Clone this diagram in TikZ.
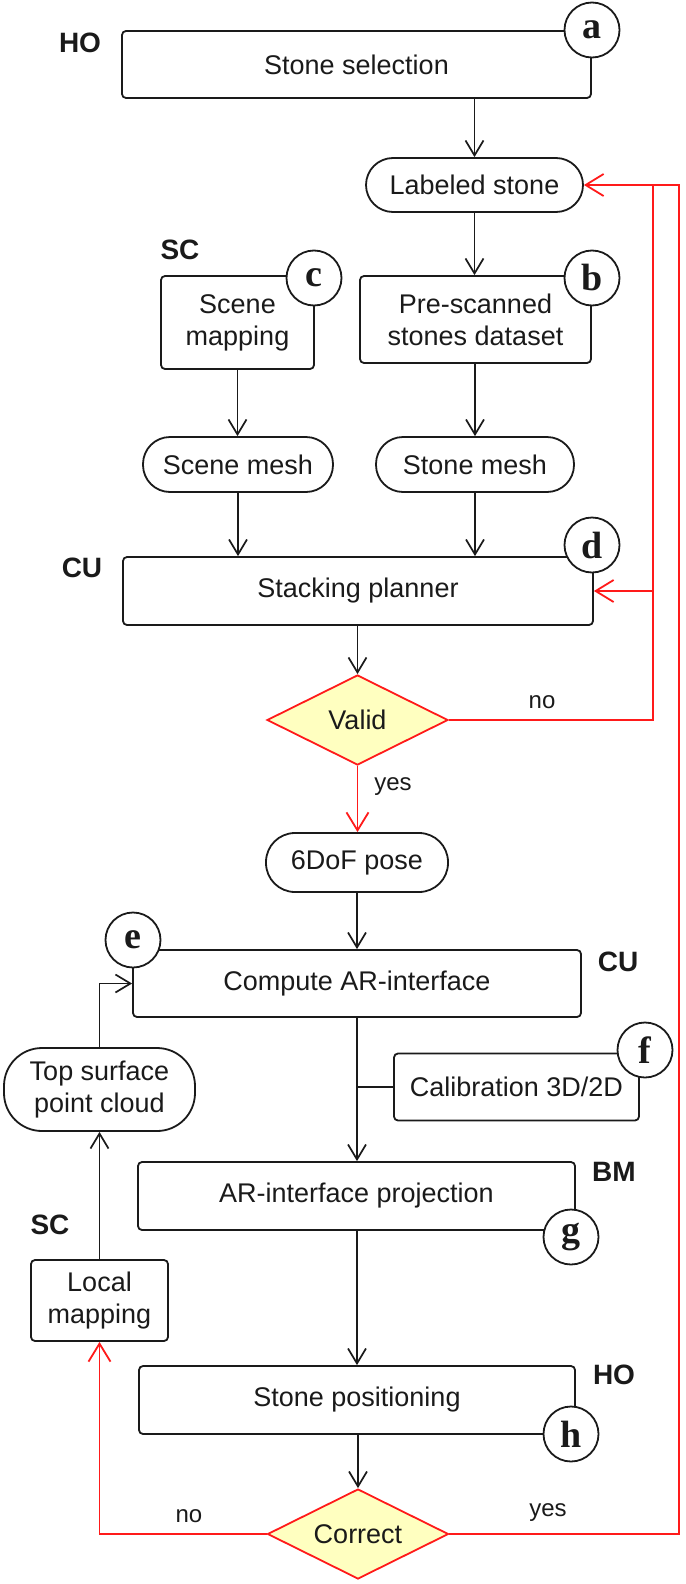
\documentclass[tikz,border=0pt]{standalone}
\usepackage{fontspec}
\setmainfont{Liberation Sans}
\newfontfamily\circfont{Liberation Serif}
\usetikzlibrary{arrows.meta,shapes.geometric,calc}
\definecolor{lineblk}{HTML}{1A1A1A}
\definecolor{flowred}{HTML}{FF1A1A}
\definecolor{diafill}{HTML}{FFFFC0}
\begin{document}
\begin{tikzpicture}[x=1pt,y=-1pt,
  font=\fontsize{27}{32}\selectfont,
  box/.style={draw=lineblk, line width=1.8pt, rounded corners=4pt, inner sep=0pt, align=center, text=lineblk},
  pill/.style={draw=lineblk, line width=1.8pt, rounded corners=#1, inner sep=0pt, align=center, text=lineblk},
  pill/.default=27pt,
  circ/.style={circle, draw=lineblk, line width=1.8pt, fill=white, minimum size=55pt, inner sep=0pt, text=lineblk, font=\circfont\bfseries\fontsize{38}{38}\selectfont},
  lbl/.style={text=lineblk, font=\bfseries\fontsize{28}{30}\selectfont},
  yn/.style={text=lineblk, font=\fontsize{24}{28}\selectfont},
  dia/.style={diamond, aspect=2, draw=flowred, line width=1.8pt, fill=diafill, minimum width=181pt, minimum height=90pt, inner sep=0pt, text=lineblk},
  arr/.style={draw=lineblk, line width=1.7pt, -{Straight Barb[length=15pt,width=18pt,line width=1.7pt]}},
  ln/.style={draw=lineblk, line width=1.7pt},
  rarr/.style={draw=flowred, line width=1.8pt, -{Straight Barb[length=18pt,width=22pt,line width=1.8pt]}},
  rln/.style={draw=flowred, line width=1.8pt}
]
\useasboundingbox (0,0) rectangle (685,1584);

% boxes
\node[box, minimum width=469pt, minimum height=67pt] (sel) at (356.5,64.5) {Stone selection};
\node[pill, minimum width=217pt, minimum height=54pt] (lab) at (474.5,185) {Labeled stone};
\node[box, minimum width=153pt, minimum height=93pt] (scm) at (237.5,322.5) {Scene\\mapping};
\node[box, minimum width=231pt, minimum height=87pt] (pre) at (475.5,319.5) {Pre-scanned\\stones dataset};
\node[pill, minimum width=190pt, minimum height=55pt] (smesh) at (238,464.5) {Scene mesh};
\node[pill, minimum width=198pt, minimum height=55pt] (stmesh) at (475,464.5) {Stone mesh};
\node[box, minimum width=470pt, minimum height=68pt] (sp) at (358,591) {Stacking planner};
\node[dia] (valid) at (357.5,720) {Valid};
\node[pill=29pt, minimum width=182pt, minimum height=59pt] (pose) at (357,862.5) {6DoF pose};
\node[box, minimum width=448pt, minimum height=67pt] (cai) at (357,983.5) {Compute AR-interface};
\node[box, minimum width=245pt, minimum height=67pt] (cal) at (516.5,1087) {Calibration 3D/2D};
\node[pill=38pt, minimum width=191pt, minimum height=83pt] (top) at (99.5,1089.5) {Top surface\\point cloud};
\node[box, minimum width=437pt, minimum height=68pt] (arp) at (356.5,1196) {AR-interface projection};
\node[box, minimum width=137pt, minimum height=81pt] (loc) at (99.5,1300.5) {Local\\mapping};
\node[box, minimum width=436pt, minimum height=68pt] (spos) at (357,1400) {Stone positioning};
\node[dia] (corr) at (358,1534) {Correct};

% circles
\node[circ] (ca) at (592,30) {a};
\node[circ] (cb) at (592,278) {b};
\node[circ] (cc) at (314,278) {c};
\node[circ] (cd) at (592,545) {d};
\node[circ] (ce) at (133,940) {e};
\node[circ] (cf) at (645,1050) {f};
\node[circ] (cg) at (571,1237) {g};
\node[circ] (ch) at (571,1434) {h};

% side labels
\node[lbl] (lho1) at (80,43) {HO};
\node[lbl] (lsc1) at (180,250) {SC};
\node[lbl] (lcu1) at (82,568) {CU};
\node[lbl] (lcu2) at (618,962) {CU};
\node[lbl] (lbm) at (614,1172) {BM};
\node[lbl] (lsc2) at (50,1225) {SC};
\node[lbl] (lho2) at (614,1375) {HO};

% black connectors
\draw[arr] (sel.south -| lab.north) -- (lab.north);
\draw[arr] (lab.south) -- (pre.north -| lab.south);
\draw[arr] (scm.south) -- (smesh.north -| scm.south);
\draw[arr] (pre.south -| stmesh.north) -- (stmesh.north);
\draw[arr] (smesh.south) -- (sp.north -| smesh.south);
\draw[arr] (stmesh.south) -- (sp.north -| stmesh.south);
\draw[arr] (sp.south -| valid.north) -- (valid.north);
\draw[arr] (pose.south) -- (cai.north -| pose.south);
\draw[arr] (cai.south -| pose.south) -- (arp.north -| pose.south);
\draw[ln] (cal.west) -- (cal.west -| pose.south);
\draw[arr] (arp.south -| pose.south) -- (spos.north -| pose.south);
\draw[arr] (spos.south -| corr.north) -- (corr.north);
\draw[arr] (loc.north) -- (top.south);
\draw[arr] (top.north) |- (cai.west);

% red connectors
\coordinate (rin) at (653,185);
\coordinate (rout) at (679,185);
\draw[rarr] (valid.south) -- (pose.north -| valid.south);
\draw[rln] (valid.east) -| (rin);
\draw[rarr] (sp.east -| rin) -- (sp.east);
\draw[rarr] (corr.east) -| (rout) -- (lab.east);
\draw[rarr] (corr.west) -| (loc.south);
\node[yn] (yes1) at (393,787) {yes};
\node[yn] (no1) at (542,702) {no};
\node[yn] (no2) at (189,1516) {no};
\node[yn] (yes2) at (548,1513) {yes};
\end{tikzpicture}
\end{document}
